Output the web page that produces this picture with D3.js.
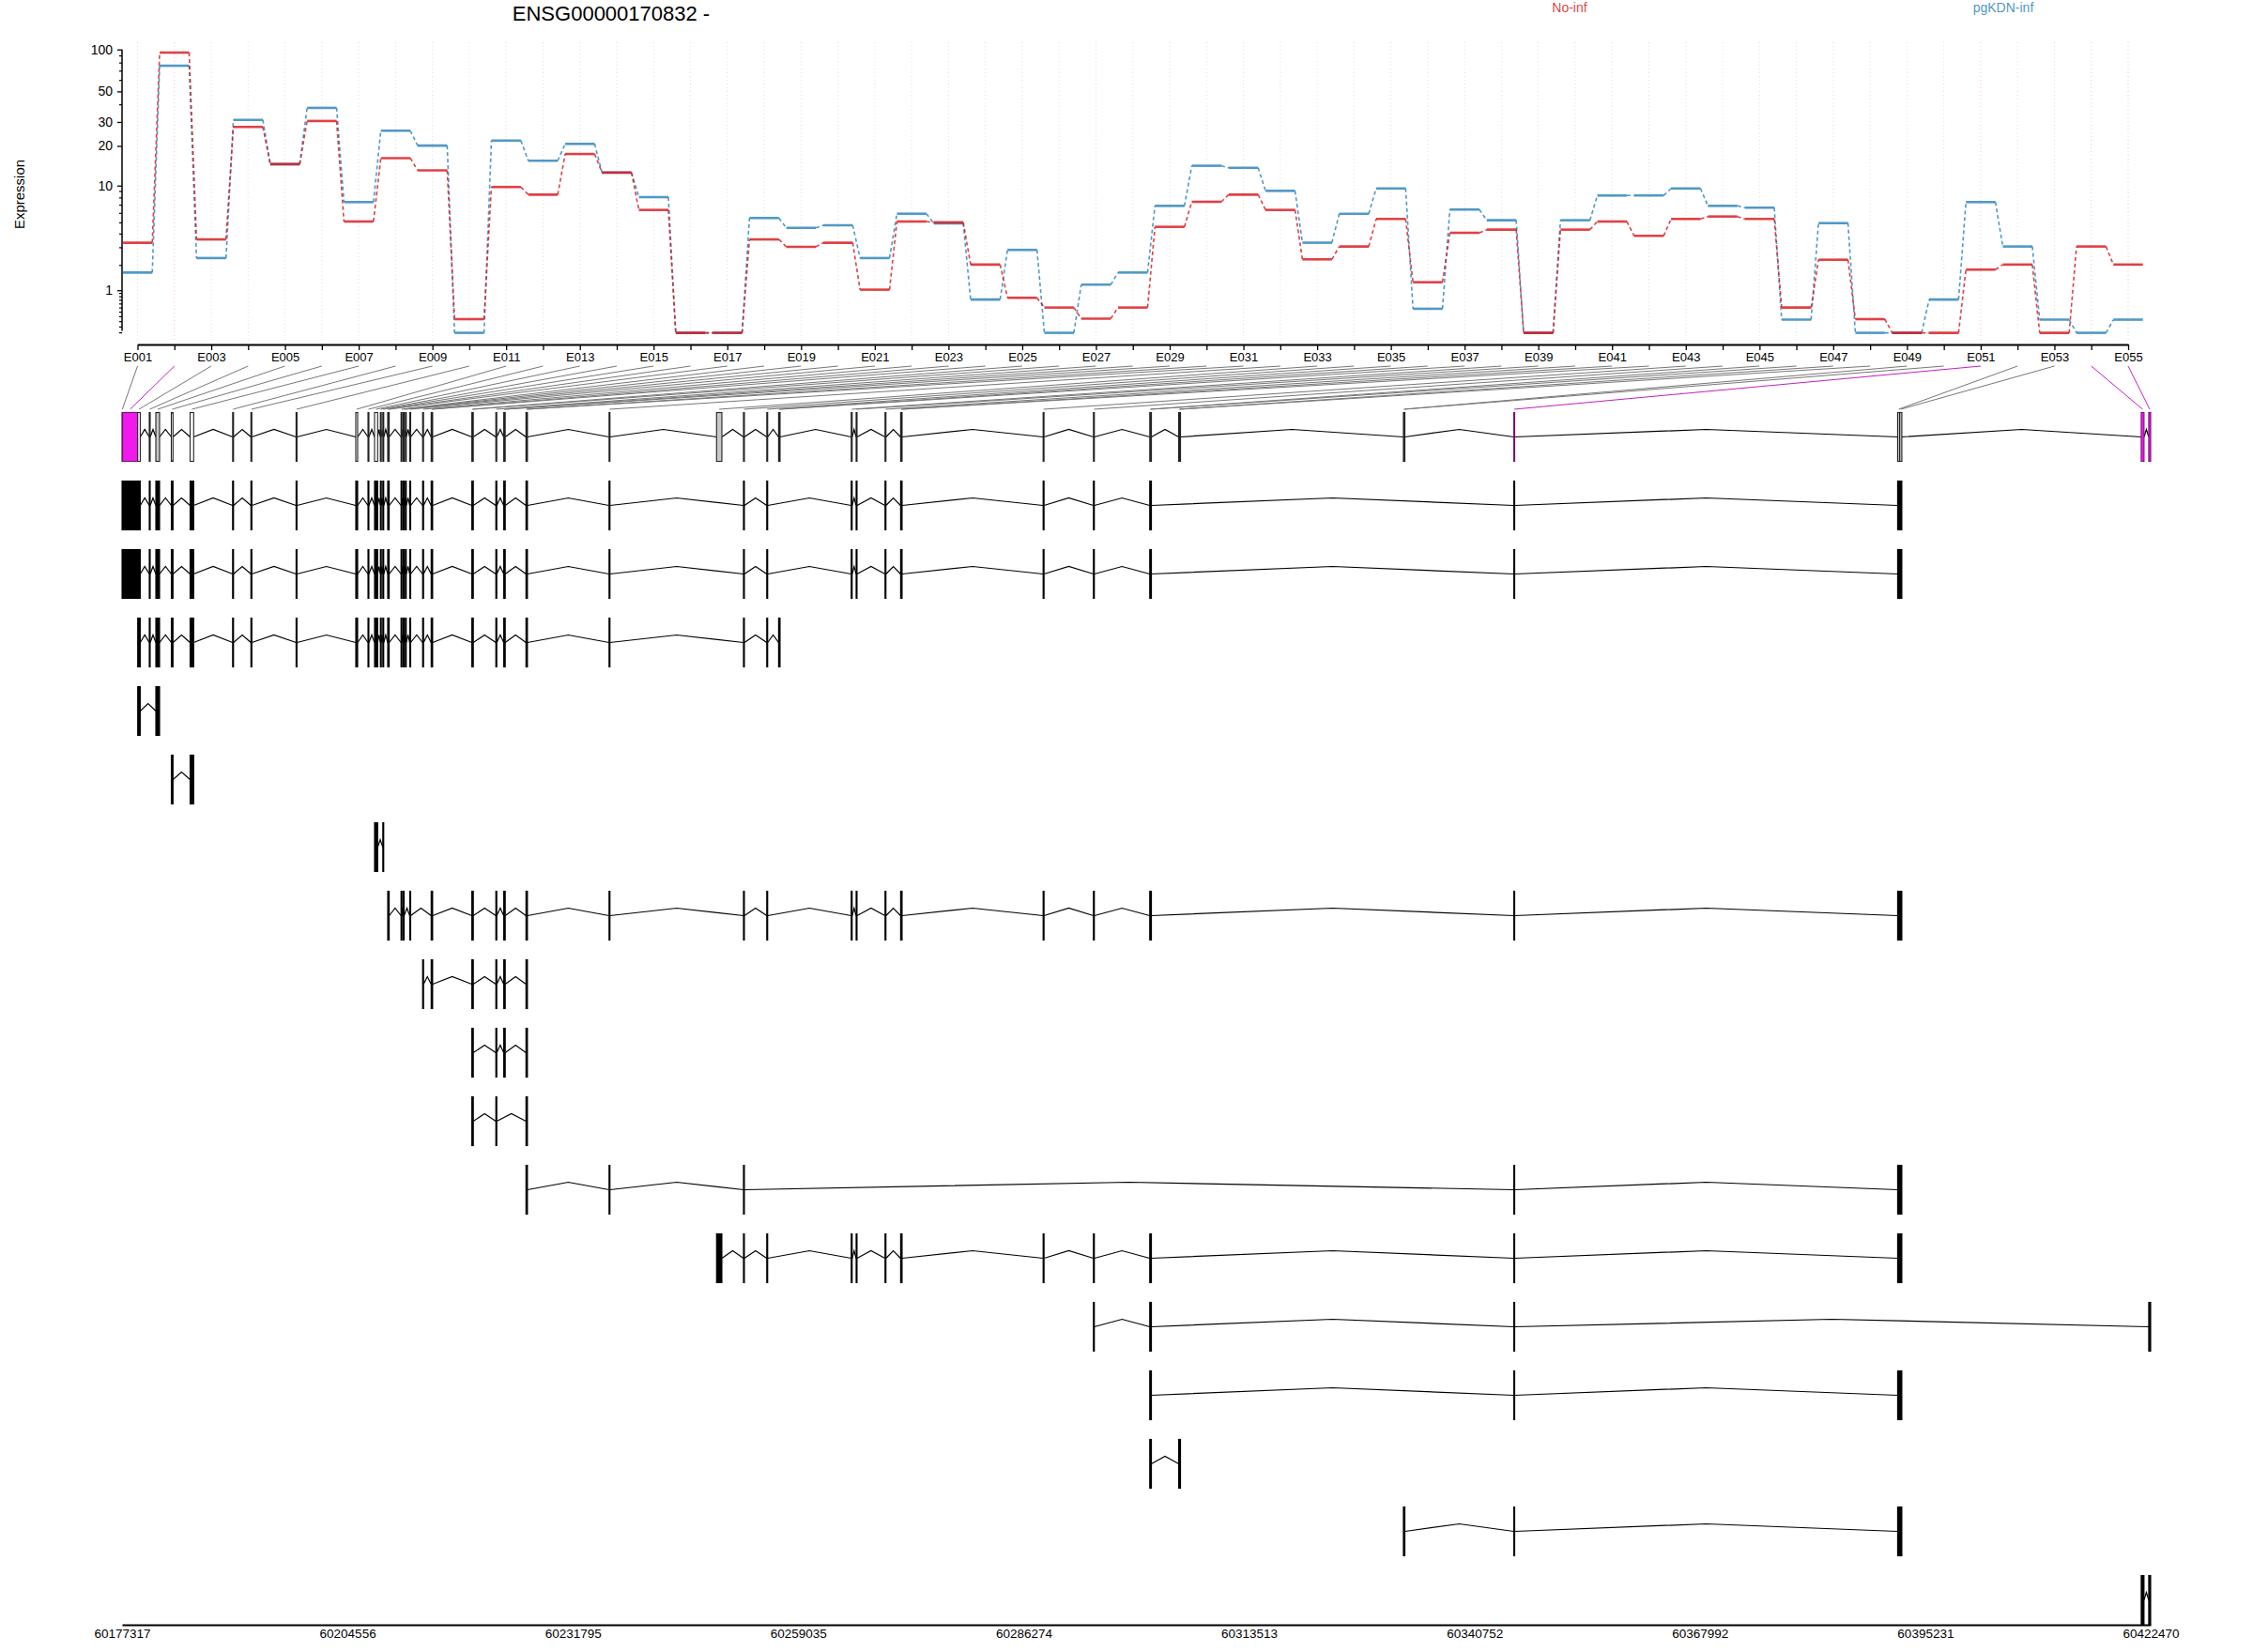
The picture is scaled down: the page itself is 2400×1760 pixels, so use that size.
<!DOCTYPE html>
<html><head><meta charset="utf-8">
<script src="https://cdn.jsdelivr.net/npm/d3@7"></script>
<style>
body{margin:0;background:#fff}
svg{display:block}
text{font-family:"Liberation Sans",Arial,Helvetica,sans-serif}
</style></head>
<body><svg id="chart" width="2400" height="1760"></svg>
<script>
// ---------------- data ----------------
const geneTitle = "ENSG00000170832 -";
const conditions = ["No-inf", "pgKDN-inf"];
const exonIds = d3.range(1, 56).map(i => "E" + String(i).padStart(3, "0"));

// fitted expression per exonic part
const noInf = [3.34, 95, 3.58, 27.6, 14.6, 30.5, 5.13, 16.2, 13.1, 0.25,
  9.75, 8.5, 17.4, 12.6, 6.4, 0, 0, 3.58, 3.06, 3.34,
  1.02, 5.13, 5.05, 2.04, 0.77, 0.51, 0.26, 0.51, 4.62, 7.45,
  8.5, 6.4, 2.31, 3.08, 5.39, 1.28, 4.1, 4.37, 0, 4.37,
  5.13, 3.85, 5.39, 5.65, 5.39, 0.51, 2.29, 0.25, 0, 0,
  1.8, 2.04, 0, 3.08, 2.04];
const pgKDNinf = [1.67, 76.5, 2.38, 31.1, 14.6, 38, 7.41, 25.9, 20.1, 0,
  21.9, 15.5, 20.7, 12.6, 8.12, 0, 0, 5.49, 4.53, 4.77,
  2.38, 5.96, 4.95, 0.72, 2.86, 0, 1.19, 1.67, 6.91, 14.2,
  13.7, 9.1, 3.34, 5.96, 9.5, 0.48, 6.45, 5.26, 0, 5.26,
  8.36, 8.36, 9.5, 6.91, 6.68, 0.24, 4.97, 0, 0, 0.72,
  7.41, 3.08, 0.24, 0, 0.24];

// genomic coordinates of exonic parts
const partStart = [60177317, 60177385, 60179211, 60180607, 60181401, 60183273, 60185541, 60190680, 60192892, 60198349,
  60205564, 60207038, 60207832, 60208536, 60208831, 60209421, 60209512, 60211031, 60211292, 60211553,
  60212086, 60213641, 60214673, 60214764, 60219585, 60219676, 60222489, 60223442, 60223533, 60226130,
  60226221, 60236170, 60249159, 60252414, 60255228, 60256657, 60256748, 60265437, 60266027, 60269521,
  60271404, 60271495, 60288624, 60294705, 60301511, 60301613, 60305005, 60305118, 60332163, 60332254,
  60345503, 60391889, 60392139, 60421326, 60422234];
const partEnd = [60177385, 60179211, 60179518, 60180720, 60181855, 60183477, 60185972, 60190793, 60193005, 60198462,
  60205791, 60207151, 60208207, 60208649, 60208944, 60209512, 60209603, 60211144, 60211405, 60211666,
  60212199, 60213754, 60214764, 60214855, 60219676, 60219767, 60222602, 60223533, 60223624, 60226221,
  60226312, 60236283, 60249806, 60252527, 60255341, 60256748, 60256839, 60265550, 60266140, 60269634,
  60271495, 60271586, 60288737, 60294818, 60301613, 60301715, 60305118, 60305231, 60332254, 60332345,
  60345616, 60392139, 60392400, 60421666, 60422470];

const significantParts = [2, 51, 54, 55];
const untestedParts = [5, 33, 52, 53];

// transcripts: lists of exonic part numbers
const transcripts = [
  [1,2,3,4,5,6,7,8,9,10,11,12,13,14,15,16,17,18,19,20,21,22,23,24,25,26,27,28,29,30,31,32,34,35,38,39,40,41,42,43,44,45,46,51,52,53],
  [1,2,3,4,5,6,7,8,9,10,11,12,13,14,15,16,17,18,19,20,21,22,23,24,25,26,27,28,29,30,31,32,34,35,38,39,40,41,42,43,44,45,46,51,52,53],
  [3,4,5,6,7,8,9,10,11,12,13,14,15,16,17,18,19,20,21,22,23,24,25,26,27,28,29,30,31,32,34,35,36,37],
  [3,5],
  [6,7],
  [13,15],
  [16,17,18,19,21,23,24,25,26,27,28,29,30,31,32,34,35,38,39,40,41,42,43,44,45,46,51,52,53],
  [22,23,24,25,26,27,28,29,30,31],
  [25,26,27,28,29,30,31],
  [25,26,27,30,31],
  [30,31,32,34,51,52,53],
  [33,34,35,38,39,40,41,42,43,44,45,46,51,52,53],
  [44,45,46,51,55],
  [45,46,51,52,53],
  [45,46,47,48],
  [49,50,51,52,53],
  [54,55]
];

const genomeTicks = [60177317, 60204556, 60231795, 60259035, 60286274, 60313513, 60340752, 60367992, 60395231, 60422470];
const yMajorTicks = [1, 10, 20, 30, 50, 100];
const yMinorTicks = [0, 0.1, 0.2, 0.3, 0.4, 0.5, 0.6, 0.7, 0.8, 0.9, 2, 3, 4, 5, 6, 7, 8, 9, 40, 60, 70, 80, 90];

// ---------------- drawing ----------------
const svg = d3.select("#chart");
const colRed = "#D7191C", colBlue = "#2B83BA", colSig = "#F219ED";
const condColors = [colRed, colBlue];
const n = exonIds.length;

const xE = d3.scaleLinear().domain([1, n]).range([146.5, 2267]);
const yLog = d3.scaleLog().domain([1, 101]).range([354.6, 52.7]);
const yV = v => yLog(v + 1);
const xG = d3.scaleLinear().domain([genomeTicks[0], genomeTicks[genomeTicks.length - 1]]).range([130, 2291]);

// title + legend
svg.append("text").attr("x", 651).attr("y", 22).attr("text-anchor", "middle")
  .attr("font-size", 22).attr("fill", "#000").text(geneTitle);
const legendX = [1672, 2134];
conditions.forEach((c, i) => {
  svg.append("text").attr("x", legendX[i]).attr("y", 13).attr("text-anchor", "middle")
    .attr("font-size", 14).attr("fill", condColors[i]).attr("fill-opacity", 0.85).text(c);
});
svg.append("text").attr("transform", "translate(26,207) rotate(-90)").attr("text-anchor", "middle")
  .attr("font-size", 15).text("Expression");

// vertical dotted grid
const isSig = i => significantParts.includes(i);
const isUntested = i => untestedParts.includes(i);
svg.append("g").selectAll("line").data(d3.range(1, n + 1)).join("line")
  .attr("x1", d => xE(d)).attr("x2", d => xE(d)).attr("y1", 45).attr("y2", 364)
  .attr("stroke", d => isSig(d) ? "#F7B8F5" : "#E0E0E0").attr("stroke-width", 1)
  .attr("stroke-dasharray", "1,3");

// y axis
const yAxisG = svg.append("g").attr("transform", "translate(130,0)");
yAxisG.call(d3.axisLeft(yLog).tickValues(yMajorTicks.map(v => v + 1)).tickFormat(d => d3.format("d")(d - 1))
  .tickSize(5).tickSizeOuter(0).tickPadding(5));
yAxisG.select(".domain").attr("d", `M0,${yV(0) - 2}V${yV(100)}`).attr("stroke-width", 1.5);
yAxisG.selectAll(".tick line").attr("stroke-width", 1.3);
yAxisG.selectAll("text").attr("font-size", 14).attr("font-family", "Liberation Sans, Arial, sans-serif");
yAxisG.append("g").selectAll("line").data(yMinorTicks).join("line")
  .attr("x1", -3).attr("x2", 0).attr("y1", d => yV(d)).attr("y2", d => yV(d))
  .attr("stroke", "#000").attr("stroke-width", 1.2);

// x axis of exonic parts
const xAxisG = svg.append("g").attr("transform", "translate(0,367)");
xAxisG.call(d3.axisBottom(xE).tickValues(d3.range(1, n + 1))
  .tickFormat(d => d % 2 === 1 ? exonIds[d - 1] : "").tickSize(6).tickSizeOuter(0).tickPadding(3));
xAxisG.select(".domain").attr("stroke-width", 2);
xAxisG.selectAll(".tick line").attr("stroke-width", 1.3);
xAxisG.selectAll("text").attr("font-size", 13).attr("font-family", "Liberation Sans, Arial, sans-serif");

// expression lines
const half = 0.4;
[pgKDNinf, noInf].forEach((vals, k) => {
  const col = k === 0 ? colBlue : colRed;
  const g = svg.append("g").attr("stroke", col).attr("stroke-opacity", 0.82).attr("fill", "none");
  g.selectAll("line.seg").data(vals).join("line").attr("class", "seg")
    .attr("x1", (d, i) => xE(i + 1 - half)).attr("x2", (d, i) => xE(i + 1 + half))
    .attr("y1", d => yV(d)).attr("y2", d => yV(d)).attr("stroke-width", 2.6);
  g.selectAll("line.con").data(vals.slice(0, -1)).join("line").attr("class", "con")
    .attr("x1", (d, i) => xE(i + 1 + half)).attr("x2", (d, i) => xE(i + 2 - half))
    .attr("y1", d => yV(d)).attr("y2", (d, i) => yV(vals[i + 1]))
    .attr("stroke-width", 1.6).attr("stroke-dasharray", "4,3");
});

// connectors from ticks to gene model
const rowTop0 = 439, rowStep = 72.9, boxH = 52, peak = 8;
const partMid = i => xG((partStart[i - 1] + partEnd[i - 1]) / 2);
svg.append("g").selectAll("line").data(d3.range(1, n + 1)).join("line")
  .attr("x1", d => xE(d)).attr("y1", 390).attr("x2", d => partMid(d)).attr("y2", 436)
  .attr("stroke", d => isSig(d) ? "#C020C0" : "#777").attr("stroke-width", 1);

// gene model rows
function drawRow(parts, rowIdx, summary) {
  const top = Math.round(rowTop0 + rowStep * rowIdx);
  const cy = top + boxH / 2 + 0.5;
  const g = svg.append("g");
  const sorted = parts.slice().sort((a, b) => partStart[a - 1] - partStart[b - 1]);
  const blocks = [];
  sorted.forEach(p => {
    const s = partStart[p - 1], e = partEnd[p - 1];
    const last = blocks[blocks.length - 1];
    if (last && s <= last.e + 1) last.e = Math.max(last.e, e);
    else blocks.push({ s, e });
  });
  for (let i = 0; i < blocks.length - 1; i++) {
    const x1 = xG(blocks[i].e), x2 = xG(blocks[i + 1].s);
    g.append("path").attr("d", `M${x1},${cy}L${(x1 + x2) / 2},${cy - peak}L${x2},${cy}`)
      .attr("fill", "none").attr("stroke", "#000").attr("stroke-width", 1.2);
  }
  g.selectAll("rect").data(sorted).join("rect")
    .attr("x", p => xG(partStart[p - 1]))
    .attr("width", p => Math.max(xG(partEnd[p - 1]) - xG(partStart[p - 1]), 0.8))
    .attr("y", top + 0.5).attr("height", boxH)
    .attr("fill", p => summary ? (isSig(p) ? colSig : isUntested(p) ? "#C8C8C8" : "#fff") : "#000")
    .attr("stroke", p => summary ? (isSig(p) ? "#7A107A" : "#222") : "#000")
    .attr("stroke-width", 1.1);
}
drawRow(d3.range(1, n + 1), 0, true);
transcripts.forEach((t, k) => drawRow(t, k + 1, false));

// genomic axis
const gAxis = svg.append("g").attr("transform", "translate(0,1731)");
gAxis.call(d3.axisBottom(xG).tickValues(genomeTicks).tickFormat(d3.format("d")).tickSize(0).tickPadding(4));
gAxis.select(".domain").attr("stroke-width", 2);
gAxis.selectAll("text").attr("font-size", 13.5).attr("font-family", "Liberation Sans, Arial, sans-serif");
</script>
</body></html>
